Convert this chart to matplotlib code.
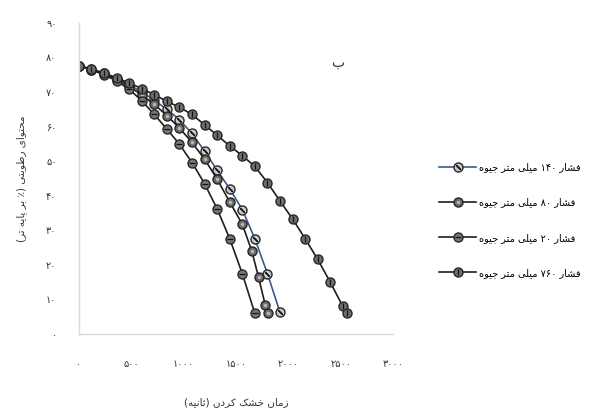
import matplotlib
matplotlib.use('Agg')
import matplotlib.pyplot as plt
from matplotlib.ticker import FuncFormatter

plt.rcParams['font.family'] = ['DejaVu Sans']

# داده‌ها (زمان بر حسب ثانیه، رطوبت ٪ بر پایه تر)
t_140 = [0, 120, 240, 360, 480, 600, 720, 840, 960, 1080, 1200, 1320, 1440, 1560, 1680, 1800, 1920]
m_140 = [77.6, 76.6, 75.4, 73.9, 72.1, 70.0, 67.6, 65.0, 62.0, 58.0, 52.9, 47.4, 42.0, 36.0, 27.6, 17.5, 6.3]

t_80 = [0, 120, 240, 360, 480, 600, 720, 840, 960, 1080, 1200, 1320, 1440, 1560, 1650, 1715, 1780, 1810]
m_80 = [77.6, 76.5, 75.2, 73.6, 71.6, 69.2, 66.4, 63.2, 59.6, 55.4, 50.6, 44.8, 38.2, 31.8, 24.1, 16.5, 8.3, 6.0]

t_20 = [0, 120, 240, 360, 480, 600, 720, 840, 960, 1080, 1200, 1320, 1440, 1560, 1680]
m_20 = [77.6, 76.4, 75.0, 73.2, 70.8, 67.5, 63.5, 59.3, 54.9, 49.6, 43.5, 36.2, 27.6, 17.5, 6.0]

t_760 = [0, 120, 240, 360, 480, 600, 720, 840, 960, 1080, 1200, 1320, 1440, 1560, 1680, 1800,
         1920, 2040, 2160, 2280, 2400, 2520, 2560]
m_760 = [77.6, 76.6, 75.5, 74.1, 72.6, 71.0, 69.2, 67.3, 65.6, 63.5, 60.5, 57.5, 54.4, 51.6, 48.5, 43.8,
         38.5, 33.3, 27.6, 21.6, 15.0, 8.0, 6.0]

labels = ['فشار ۱۴۰ میلی متر جیوه', 'فشار ۸۰ میلی متر جیوه',
          'فشار ۲۰ میلی متر جیوه', 'فشار ۷۶۰ میلی متر جیوه']
x_label = 'زمان خشک کردن (ثانیه)'
y_label = 'محتوای رطوبتی (٪ بر پایه تر)'
panel = 'ب'
x_ticks = [0, 500, 1000, 1500, 2000, 2500, 3000]
y_ticks = [0, 10, 20, 30, 40, 50, 60, 70, 80, 90]

# شکل‌دهی ساده حروف فارسی (matplotlib خودش این کار را نمی‌کند)
FORMS = {
    'ا': ('\uFE8D', '\uFE8E', None, None),
    'ب': ('\uFE8F', '\uFE90', '\uFE91', '\uFE92'),
    'پ': ('\uFB56', '\uFB57', '\uFB58', '\uFB59'),
    'ت': ('\uFE95', '\uFE96', '\uFE97', '\uFE98'),
    'ث': ('\uFE99', '\uFE9A', '\uFE9B', '\uFE9C'),
    'ج': ('\uFE9D', '\uFE9E', '\uFE9F', '\uFEA0'),
    'ح': ('\uFEA1', '\uFEA2', '\uFEA3', '\uFEA4'),
    'خ': ('\uFEA5', '\uFEA6', '\uFEA7', '\uFEA8'),
    'د': ('\uFEA9', '\uFEAA', None, None),
    'ر': ('\uFEAD', '\uFEAE', None, None),
    'ز': ('\uFEAF', '\uFEB0', None, None),
    'ش': ('\uFEB5', '\uFEB6', '\uFEB7', '\uFEB8'),
    'ط': ('\uFEC1', '\uFEC2', '\uFEC3', '\uFEC4'),
    'ف': ('\uFED1', '\uFED2', '\uFED3', '\uFED4'),
    'ک': ('\uFB8E', '\uFB8F', '\uFB90', '\uFB91'),
    'گ': ('\uFB92', '\uFB93', '\uFB94', '\uFB95'),
    'ل': ('\uFEDD', '\uFEDE', '\uFEDF', '\uFEE0'),
    'م': ('\uFEE1', '\uFEE2', '\uFEE3', '\uFEE4'),
    'ن': ('\uFEE5', '\uFEE6', '\uFEE7', '\uFEE8'),
    'ه': ('\uFEE9', '\uFEEA', '\uFEEB', '\uFEEC'),
    'و': ('\uFEED', '\uFEEE', None, None),
    'ی': ('\uFBFC', '\uFBFD', '\uFBFE', '\uFBFF'),
}
FA_DIGITS = '۰۱۲۳۴۵۶۷۸۹'


def shape_word(w):
    out = []
    for i, c in enumerate(w):
        if c not in FORMS:
            out.append(c)
            continue
        f = FORMS[c]
        prev = w[i - 1] if i > 0 else ''
        nxt = w[i + 1] if i + 1 < len(w) else ''
        jp = prev in FORMS and FORMS[prev][2] is not None
        jn = f[2] is not None and nxt in FORMS
        if jp and jn:
            out.append(f[3])
        elif jp:
            out.append(f[1])
        elif jn:
            out.append(f[2])
        else:
            out.append(f[0])
    return ''.join(out)


def fa(text):
    vis = []
    for w in reversed(text.split(' ')):
        if all(ch in FA_DIGITS for ch in w):
            vis.append(w)
        else:
            s = shape_word(w)[::-1]
            vis.append(s.translate(str.maketrans('()', ')(')))
    return ' '.join(vis)


def fa_num(v, pos=None):
    s = str(int(round(v)))
    return ''.join(FA_DIGITS[int(d)] for d in s)


fig = plt.figure(figsize=(6.02, 4.15), dpi=100)
ax = fig.add_axes([0.131, 0.195, 0.522, 0.75])

dark = '#1e1e1e'
blue = '#3b5a8a'
ms = 6.5

series = [
    (t_140, m_140, blue, '#c8c8c8', (2, 2, 45)),
    (t_80, m_80, dark, '#6a6a6a', 'o'),
    (t_20, m_20, dark, '#777777', '_'),
    (t_760, m_760, dark, '#6e6e6e', '|'),
]

handles = []
for t, m, lc, fc, inner in series:
    l1, = ax.plot(t, m, color=lc, lw=1.2, marker='o', ms=ms, mfc=fc, mec='#262626', mew=1.0)
    if inner == 'o':
        l2, = ax.plot(t, m, ls='none', marker='o', ms=2.6, mfc='#b5b5b5', mec='none')
    else:
        l2, = ax.plot(t, m, ls='none', marker=inner, ms=ms * 0.7, mec='#111111', mew=0.9)
    handles.append((l1, l2))

ax.set_xlim(0, 3000)
ax.set_ylim(0, 90)
ax.set_xticks(x_ticks)
ax.set_yticks(y_ticks)
ax.xaxis.set_major_formatter(FuncFormatter(fa_num))
ax.yaxis.set_major_formatter(FuncFormatter(fa_num))
ax.tick_params(length=0, labelsize=7, colors='#333333')
ax.tick_params(axis='x', pad=18)
ax.tick_params(axis='y', pad=16)

for s in ['top', 'right']:
    ax.spines[s].set_visible(False)
for s in ['left', 'bottom']:
    ax.spines[s].set_color('#d9d9d9')
    ax.spines[s].set_linewidth(1.0)

ax.set_xlabel(fa(x_label), fontsize=7.5, color='#333333', labelpad=20)
ax.set_ylabel(fa(y_label), fontsize=7.5, color='#333333', labelpad=14)

ax.text(2470, 78.5, fa(panel), fontsize=10, color='#333333', ha='center', va='center')

fig.legend(handles, [fa(s) for s in labels], loc='center left',
           bbox_to_anchor=(0.715, 0.47), frameon=False, fontsize=7,
           labelspacing=2.6, handlelength=3.8, handletextpad=0.3)

fig.savefig('out.png', dpi=100)
